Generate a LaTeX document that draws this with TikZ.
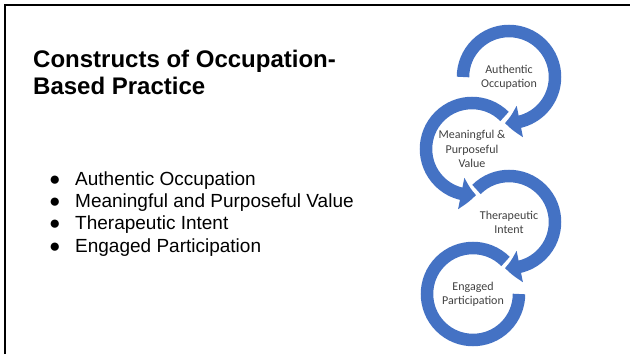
\documentclass[tikz,border=0pt]{standalone}
\usepackage{fontspec}
\setmainfont{Liberation Sans}
\newfontfamily\labelfont{Carlito}
\usepackage{tikz}
\usetikzlibrary{arrows.meta, bending, positioning}
\definecolor{ringblue}{RGB}{68, 114, 196}
\definecolor{labelgray}{RGB}{64, 64, 64}

\begin{document}
\begin{tikzpicture}[
    x=1pt, y=1pt,
    heading/.style={anchor=base west, inner sep=0pt, align=left, font=\bfseries\fontsize{24}{27.5}\selectfont},
    item/.style={anchor=north west, inner sep=0pt, text height=15pt, text depth=7pt, font=\fontsize{19}{22}\selectfont},
    circletext/.style={align=center, inner sep=0pt, text=labelgray, font=\labelfont\fontsize{12}{14.2}\selectfont},
    ring/.style={draw=ringblue, line width=12.5pt, -{Triangle[width=31pt, length=15pt, bend]}},
    slideedge/.style={draw=black, line width=2.5pt}
]
    \useasboundingbox (0,0) rectangle (630,354);
    \draw[slideedge] (5,0) -- (5,349) -- (630,349);

    \node[heading] (title) at (33,259) {Constructs of Occupation-\\Based Practice};

    \node[item] (itemauth) at (49,184) {\makebox[26pt][l]{●}Authentic Occupation};
    \node[item, below=0pt of itemauth.south west, anchor=north west] (itemmean) {\makebox[26pt][l]{●}Meaningful and Purposeful Value};
    \node[item, below=0pt of itemmean.south west, anchor=north west] (itemther) {\makebox[26pt][l]{●}Therapeutic Intent};
    \node[item, below=0pt of itemther.south west, anchor=north west] (itemeng) {\makebox[26pt][l]{●}Engaged Participation};

    \node[circletext] (authentic) at (509,277) {Authentic\\Occupation};
    \node[circletext] (meaningful) at (472,205) {Meaningful \&\\Purposeful\\Value};
    \node[circletext] (therapeutic) at (509,132) {Therapeutic\\Intent};
    \node[circletext] (engaged) at (473,60) {Engaged\\Participation};

    \draw[ring, -] ([shift={(45:46)}]engaged.center) arc[start angle=45, end angle=360, radius=46];
    \draw[ring] ([shift={(135:46)}]therapeutic.center) arc[start angle=135, end angle=-95, radius=46];
    \draw[ring] ([shift={(45:46)}]meaningful.center) arc[start angle=45, end angle=275, radius=46];
    \draw[ring] ([shift={(180:46)}]authentic.center) arc[start angle=180, end angle=-95, radius=46];
\end{tikzpicture}
\end{document}
